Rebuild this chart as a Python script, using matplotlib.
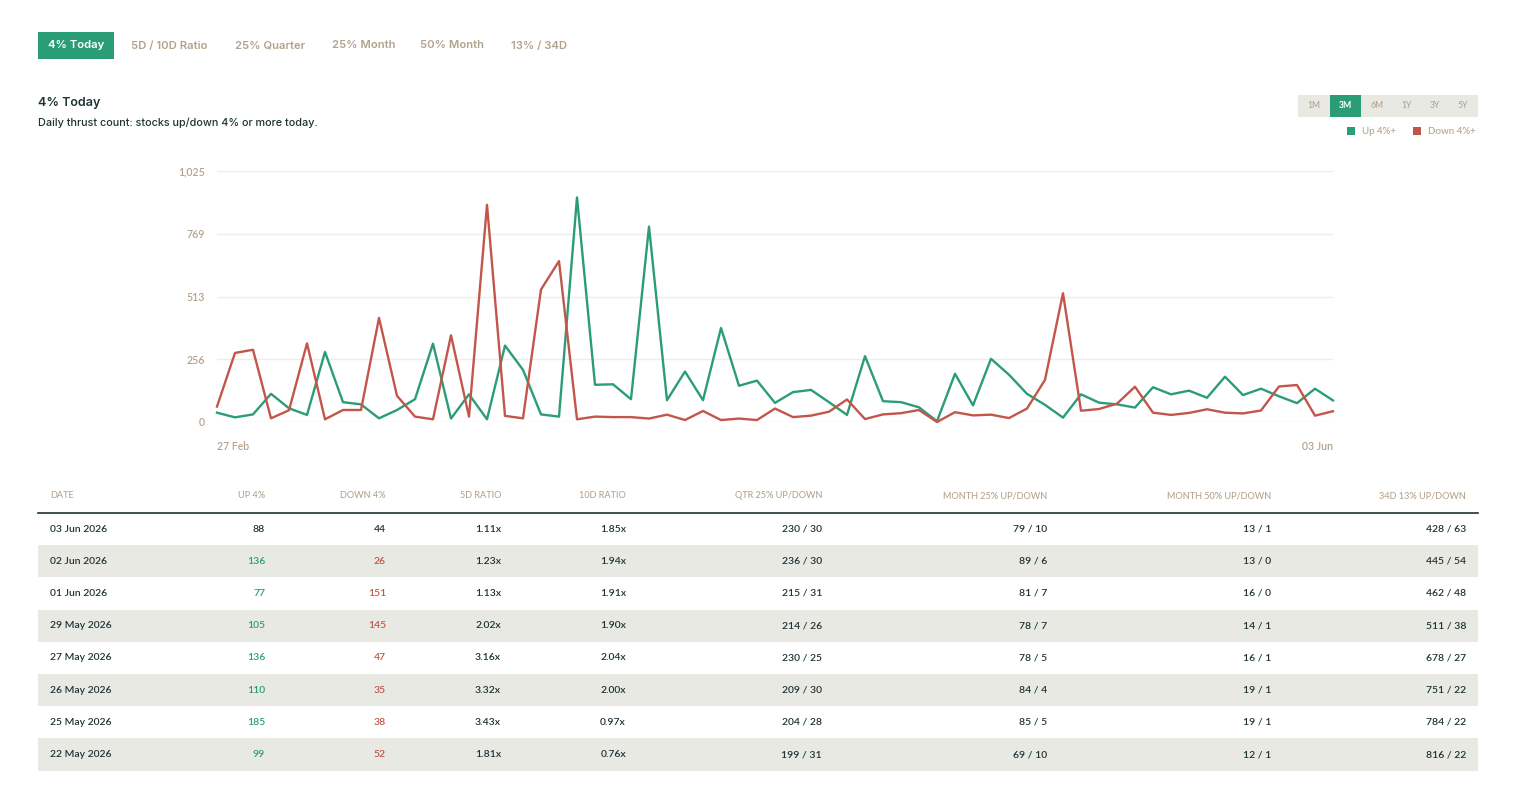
import numpy as np
import matplotlib
matplotlib.use("Agg")
import matplotlib.pyplot as plt
from matplotlib.patches import Rectangle

# ---- data ----
up_4 = [38, 19, 31, 115, 56, 29, 286, 81, 72, 15, 49, 93, 320, 14, 113, 11, 312, 213, 31, 22,
        917, 152, 154, 93, 798, 89, 206, 89, 384, 148, 169, 78, 122, 131, 81, 29, 269, 85, 81, 60,
        3, 197, 68, 258, 193, 115, 70, 18, 113, 79, 72, 59, 142, 113, 128, 99, 185, 110, 136, 105,
        77, 136, 88]
down_4 = [63, 282, 295, 15, 48, 321, 11, 49, 49, 425, 107, 22, 11, 354, 22, 887, 25, 15, 541, 657,
          11, 22, 20, 20, 14, 30, 8, 45, 8, 14, 8, 55, 20, 26, 42, 92, 12, 31, 36, 49,
          0, 40, 27, 30, 16, 55, 172, 526, 46, 53, 75, 144, 38, 29, 37, 52, 38, 35, 47, 145,
          151, 26, 44]
x_labels = ["27 Feb", "03 Jun"]
y_ticks = [0, 256.25, 512.5, 768.75, 1025]
y_tick_labels = ["0", "256", "513", "769", "1,025"]

tabs = ["4% Today", "5D / 10D Ratio", "25% Quarter", "25% Month", "50% Month", "13% / 34D"]
ranges = ["1M", "3M", "6M", "1Y", "3Y", "5Y"]

headers = ["DATE", "UP 4%", "DOWN 4%", "5D RATIO", "10D RATIO", "QTR 25% UP/DOWN",
           "MONTH 25% UP/DOWN", "MONTH 50% UP/DOWN", "34D 13% UP/DOWN"]
dates = ["03 Jun 2026", "02 Jun 2026", "01 Jun 2026", "29 May 2026", "27 May 2026",
         "26 May 2026", "25 May 2026", "22 May 2026"]
tbl_up = [88, 136, 77, 105, 136, 110, 185, 99]
tbl_down = [44, 26, 151, 145, 47, 35, 38, 52]
ratio_5d = ["1.11x", "1.23x", "1.13x", "2.02x", "3.16x", "3.32x", "3.43x", "1.81x"]
ratio_10d = ["1.85x", "1.94x", "1.91x", "1.90x", "2.04x", "2.00x", "0.97x", "0.76x"]
qtr_25 = ["230 / 30", "236 / 30", "215 / 31", "214 / 26", "230 / 25", "209 / 30", "204 / 28", "199 / 31"]
month_25 = ["79 / 10", "89 / 6", "81 / 7", "78 / 7", "78 / 5", "84 / 4", "85 / 5", "69 / 10"]
month_50 = ["13 / 1", "13 / 0", "16 / 0", "14 / 1", "16 / 1", "19 / 1", "19 / 1", "12 / 1"]
d34_13 = ["428 / 63", "445 / 54", "462 / 48", "511 / 38", "678 / 27", "751 / 22", "784 / 22", "816 / 22"]

# ---- style ----
GREEN = "#2b9d76"
RED = "#c2564a"
TAN = "#b4a28d"
DARK = "#1e3434"
GRID = "#eeede7"
ROWBG = "#e9e9e4"
UI = ["Inter", "DejaVu Sans"]
NUM = ["Lato", "DejaVu Sans"]

W, H = 1515, 794
fig = plt.figure(figsize=(W / 100, H / 100), dpi=100)
fig.patch.set_facecolor("white")


def fx(x):
    return x / W


def fy(y):
    return 1 - y / H


def rect(x0, y0, x1, y1, color):
    fig.patches.append(Rectangle((fx(x0), fy(y1)), fx(x1 - x0), (y1 - y0) / H,
                                 transform=fig.transFigure, facecolor=color,
                                 edgecolor="none", zorder=0))


def txt(x, y, s, **kw):
    fig.text(fx(x), fy(y), s, va="center", **kw)


# tabs
tab_x = [76, 169, 270.5, 363.5, 452.5, 539.5]
rect(38, 32, 114, 59, GREEN)
for i, t in enumerate(tabs):
    txt(tab_x[i], 45.5, t, ha="center", fontsize=8.1, fontweight="semibold",
        color="white" if i == 0 else TAN, family=UI)

# title
txt(38, 103, "4% Today", ha="left", fontsize=9, fontweight="semibold", color=DARK, family=UI)
txt(38, 123, "Daily thrust count: stocks up/down 4% or more today.", ha="left",
    fontsize=7.8, fontweight="medium", color=DARK, family=UI)

# range buttons
rect(1298, 95, 1478, 117, ROWBG)
rect(1330, 95, 1361, 117, GREEN)
range_x = [1314, 1345.5, 1377, 1407, 1435, 1463]
for i, r in enumerate(ranges):
    txt(range_x[i], 106, r, ha="center", fontsize=6.2, fontweight="bold" if i == 1 else "medium",
        color="white" if i == 1 else TAN, family=NUM)

# legend
rect(1347, 127, 1355, 135, GREEN)
txt(1362, 131.5, "Up 4%+", ha="left", fontsize=7, fontweight="medium", color=TAN, family=NUM)
rect(1413, 127, 1421, 135, RED)
txt(1428, 131.5, "Down 4%+", ha="left", fontsize=7, fontweight="medium", color=TAN, family=NUM)

# ---- chart ----
ax = fig.add_axes([fx(217), fy(422), fx(1333 - 217), (422 - 171) / H])
x = np.arange(len(up_4))
ax.plot(x, up_4, color=GREEN, lw=1.7, clip_on=False, zorder=3)
ax.plot(x, down_4, color=RED, lw=1.7, clip_on=False, zorder=4)
ax.set_xlim(0, len(up_4) - 1)
ax.set_ylim(0, 1025)
ax.set_yticks(y_ticks)
ax.set_yticklabels(y_tick_labels)
ax.grid(axis="y", color=GRID, lw=1)
ax.set_axisbelow(True)
for s in ax.spines.values():
    s.set_visible(False)
ax.tick_params(axis="y", length=0, pad=8.5, labelsize=7.6, labelcolor=TAN)
ax.set_xticks([0, len(up_4) - 1])
ax.set_xticklabels(x_labels)
ax.tick_params(axis="x", length=0, pad=14, labelsize=7.6, labelcolor=TAN)
for lab in ax.get_yticklabels() + ax.get_xticklabels():
    lab.set_family(NUM)
    lab.set_fontweight("semibold")
xl = ax.get_xticklabels()
xl[0].set_ha("left")
xl[1].set_ha("right")

# ---- table ----
col_x = [50, 265, 386, 501, 626, 822, 1047, 1271, 1466]
for j, h in enumerate(headers):
    txt(col_x[j], 496, h, ha="left" if j == 0 else "right", fontsize=6.6, fontweight="medium",
        color=TAN, family=NUM)
fig.add_artist(plt.Line2D([fx(38), fx(1478)], [fy(512.5), fy(512.5)], color=DARK, lw=1.2,
                          transform=fig.transFigure))

row_h = 32.2
for i in range(len(dates)):
    top = 513 + i * row_h
    if i % 2 == 1:
        rect(38, top, 1478, top + row_h, ROWBG)
    yc = top + row_h / 2
    up_col = DARK if i == 0 else GREEN
    dn_col = DARK if i == 0 else RED
    cells = [(dates[i], DARK), (str(tbl_up[i]), up_col), (str(tbl_down[i]), dn_col),
             (ratio_5d[i], DARK), (ratio_10d[i], DARK), (qtr_25[i], DARK),
             (month_25[i], DARK), (month_50[i], DARK), (d34_13[i], DARK)]
    for j, (s, c) in enumerate(cells):
        txt(col_x[j], yc, s, ha="left" if j == 0 else "right", fontsize=7.5, color=c,
            family=NUM, fontweight="semibold")

fig.savefig("out.png", dpi=100, facecolor="white")
